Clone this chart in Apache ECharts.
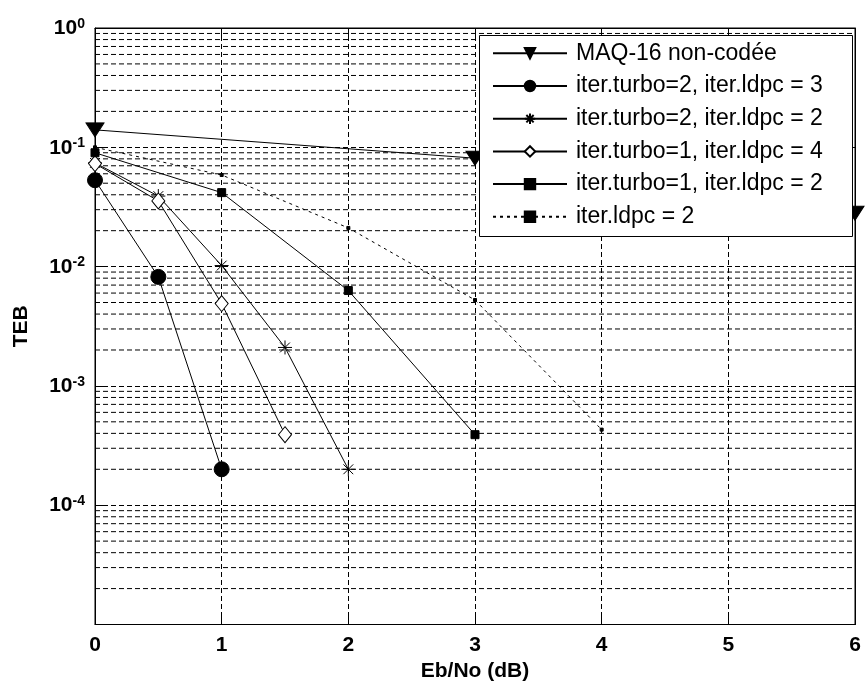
<!DOCTYPE html>
<html>
<head>
<meta charset="utf-8">
<script src="https://cdn.jsdelivr.net/npm/echarts@6/dist/echarts.min.js"></script>
<style>
html,body{margin:0;padding:0;background:#fff;}
#chart{width:866px;height:684px;}
</style>
</head>
<body>
<div id="chart"></div>
<script>
// ---- data ----
const seriesNames = [
  'MAQ-16 non-codée',
  'iter.turbo=2, iter.ldpc = 3',
  'iter.turbo=2, iter.ldpc = 2',
  'iter.turbo=1, iter.ldpc = 4',
  'iter.turbo=1, iter.ldpc = 2',
  'iter.ldpc = 2'
];
const xMaq   = [0, 3, 6];
const yMaq   = [0.14, 0.081, 0.028];
const xT2L3  = [0, 0.5, 1];
const yT2L3  = [0.053, 0.0082, 0.0002];
const xT2L2  = [0, 0.5, 1, 1.5, 2];
const yT2L2  = [0.074, 0.039, 0.0102, 0.0021, 0.0002];
const xT1L4  = [0, 0.5, 1, 1.5];
const yT1L4  = [0.073, 0.0355, 0.0049, 0.00039];
const xT1L2  = [0, 1, 2, 3];
const yT1L2  = [0.09, 0.0417, 0.0063, 0.00039];
const xL2    = [0, 1, 2, 3, 4];
const yL2    = [0.1, 0.0586, 0.0211, 0.00525, 0.00043];
const xRange = [0, 6];
const yDecades = [-5, -4, -3, -2, -1, 0];
const minorMult = [2, 3, 4, 5, 6, 7, 8, 9];

function pairs(xs, ys) { return xs.map((x, i) => [x, ys[i]]); }

// minor log grid lines (2..9 x 10^e), drawn as broken line segments across the x range
const minorGridData = [];
yDecades.slice(0, -1).forEach(e => minorMult.forEach(m => {
  const v = m * Math.pow(10, e);
  minorGridData.push([xRange[0], v], [xRange[1], v], [xRange[1], '-']);
}));

const FONT = 'Liberation Sans, Arial, sans-serif';
const DASH = [5, 3];
const starPath = 'path://M0,-10L0,10M-10,0L10,0M-7,-7L7,7M-7,7L7,-7';

const chart = echarts.init(document.getElementById('chart'), null, { renderer: 'canvas' });

function baseSeries(name, data, symbol, size, extra) {
  return Object.assign({
    name: name,
    type: 'line',
    data: data,
    symbol: symbol,
    symbolSize: size,
    clip: false,
    z: 3,
    lineStyle: { color: '#000', width: 1 },
    itemStyle: { color: '#000', borderColor: '#000', borderWidth: 1 },
    emphasis: { disabled: true },
    animation: false
  }, extra || {});
}

const option = {
  animation: false,
  backgroundColor: '#fff',
  textStyle: { fontFamily: FONT },
  grid: {
    left: 95, right: 11, top: 28, bottom: 59.5,
    show: true, borderColor: '#000', borderWidth: 1, backgroundColor: 'transparent',
    containLabel: false, outerBoundsMode: 'none'
  },
  graphic: [{
    type: 'rect', z: 10, silent: true,
    shape: { x: 479.5, y: 35.5, width: 373, height: 201 },
    style: { fill: '#fff', stroke: '#000', lineWidth: 1 }
  }],
  legend: {
    orient: 'vertical',
    left: 492, top: 41.8,
    z: 12,
    padding: 0,
    itemWidth: 74, itemHeight: 13, itemGap: 9.7,
    selectedMode: false,
    data: seriesNames,
    textStyle: { fontFamily: FONT, fontSize: 23, color: '#000', lineHeight: 23, padding: [0, 0, 0, 4] }
  },
  xAxis: [{
    type: 'value', min: 0, max: 6, interval: 1,
    name: 'Eb/No (dB)', nameLocation: 'middle', nameGap: 22,
    nameTextStyle: { fontFamily: FONT, fontSize: 21, fontWeight: 'bold', color: '#000', verticalAlign: 'top' },
    axisLine: { show: true, onZero: false, lineStyle: { color: '#000', width: 1 } },
    axisTick: { show: true, inside: true, length: 8, lineStyle: { color: '#000' } },
    axisLabel: { show: true, fontFamily: FONT, fontSize: 21, fontWeight: 'bold', color: '#000', margin: 10,
                 showMinLabel: true, showMaxLabel: true, hideOverlap: false },
    splitLine: { show: true, lineStyle: { color: '#000', type: DASH, width: 1 } }
  }, {
    type: 'value', min: 0, max: 6, interval: 1, position: 'top',
    axisLine: { show: true, onZero: false, lineStyle: { color: '#000' } },
    axisTick: { show: true, inside: true, length: 8, lineStyle: { color: '#000' } },
    axisLabel: { show: false },
    splitLine: { show: false }
  }],
  yAxis: [{
    type: 'log', logBase: 10, min: 1e-5, max: 1,
    name: 'TEB', nameLocation: 'middle', nameGap: 63, nameRotate: 90,
    nameTextStyle: { fontFamily: FONT, fontSize: 21, fontWeight: 'bold', color: '#000' },
    axisLine: { show: true, onZero: false, lineStyle: { color: '#000', width: 1 } },
    axisTick: { show: true, inside: true, length: 10, lineStyle: { color: '#000' } },
    axisLabel: {
      show: true, margin: 10, color: '#000', hideOverlap: false,
      formatter: function (v) {
        const e = Math.round(Math.log10(v));
        if (e === -5) return '';
        return '{b|10}{s|' + e + '}';
      },
      rich: {
        b: { fontFamily: FONT, fontSize: 21, fontWeight: 'bold', color: '#000', lineHeight: 22, verticalAlign: 'bottom' },
        s: { fontFamily: FONT, fontSize: 14, fontWeight: 'bold', color: '#000', lineHeight: 14, verticalAlign: 'top', padding: [0, 0, 10, 0] }
      }
    },
    splitLine: { show: true, lineStyle: { color: '#000', type: DASH, width: 1 } }
  }, {
    type: 'log', logBase: 10, min: 1e-5, max: 1, position: 'right',
    axisLine: { show: true, onZero: false, lineStyle: { color: '#000' } },
    axisTick: { show: true, inside: true, length: 10, lineStyle: { color: '#000' } },
    axisLabel: { show: false },
    splitLine: { show: false }
  }],
  series: [
    {
      name: 'grid-minor', type: 'line', data: minorGridData, silent: true, z: 1,
      symbol: 'none', connectNulls: false, clip: true,
      lineStyle: { color: '#000', type: DASH, width: 1 },
      emphasis: { disabled: true }, tooltip: { show: false }
    },
    baseSeries(seriesNames[0], pairs(xMaq, yMaq), 'triangle', [18, 14], { symbolRotate: 180 }),
    baseSeries(seriesNames[1], pairs(xT2L3, yT2L3), 'circle', 15),
    baseSeries(seriesNames[2], pairs(xT2L2, yT2L2), starPath, 14, { symbolKeepAspect: true }),
    baseSeries(seriesNames[3], pairs(xT1L4, yT1L4), 'diamond', [13, 16], {
      itemStyle: { color: '#fff', borderColor: '#000', borderWidth: 1 }
    }),
    baseSeries(seriesNames[4], pairs(xT1L2, yT1L2), 'rect', 8),
    baseSeries(seriesNames[5], pairs(xL2, yL2), 'rect', 3, {
      lineStyle: { color: '#000', width: 1, type: [3, 4] }
    })
  ]
};
chart.setOption(option);
</script>
</body>
</html>
